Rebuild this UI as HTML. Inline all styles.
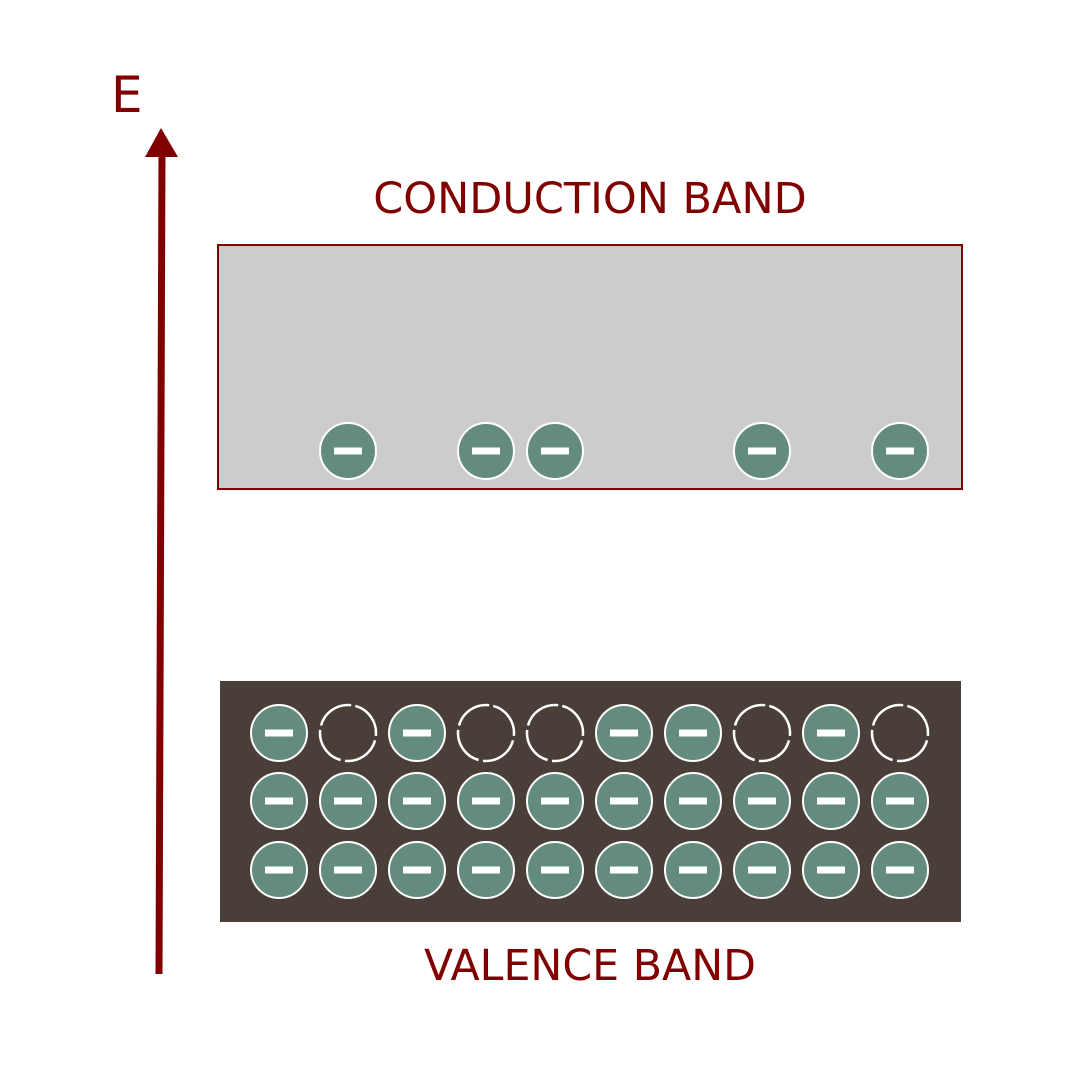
<!DOCTYPE html>
<html><head><meta charset="utf-8"><style>
html,body{margin:0;padding:0;background:#fff;}
svg{display:block;}
text{font-family:"DejaVu Sans","Liberation Sans",sans-serif;fill:#800000;}
</style></head><body>
<svg id="chart" width="1080" height="1080" viewBox="0 0 1080 1080" xmlns="http://www.w3.org/2000/svg">
  <rect x="0" y="0" width="1080" height="1080" fill="#fff"/>
  <text x="111" y="112" font-size="50">E</text>
  <line x1="159" y1="974" x2="162" y2="152" stroke="#800000" stroke-width="7"/>
  <polygon points="161,128 178,157 145,157" fill="#800000"/>
  <text x="590" y="213" font-size="43" text-anchor="middle">CONDUCTION BAND</text>
  <rect x="218" y="245" width="744" height="244" fill="#cccccc" stroke="#800000" stroke-width="2"/>
  <rect x="220" y="681" width="741" height="241" fill="#4a3f38"/>
  <text x="590" y="980" font-size="42.7" text-anchor="middle">VALENCE BAND</text>
  <g id="particles"></g>
</svg>
<script>
// column index positions (0..9)
const conductionElectronCols = [1, 3, 4, 7, 9];
const valenceRow1 = ['e','h','e','h','h','e','e','h','e','h'];
const valenceRow2 = ['e','e','e','e','e','e','e','e','e','e'];
const valenceRow3 = ['e','e','e','e','e','e','e','e','e','e'];

const NS = 'http://www.w3.org/2000/svg';
const g = document.getElementById('particles');
function colX(i){ return 279 + i*69; }
const R = 28;

function electron(cx, cy){
  const grp = document.createElementNS(NS,'g');
  
  
  const c = document.createElementNS(NS,'circle');
  c.setAttribute('cx', cx); c.setAttribute('cy', cy); c.setAttribute('r', R);
  c.setAttribute('fill', '#648c7e'); c.setAttribute('stroke', '#fff'); c.setAttribute('stroke-width', '2');
  grp.appendChild(c);
  const b = document.createElementNS(NS,'rect');
  b.setAttribute('x', cx-14); b.setAttribute('y', cy-3.5); b.setAttribute('width', 28); b.setAttribute('height', 7);
  b.setAttribute('fill', '#fff');
  grp.appendChild(b);
  g.appendChild(grp);
}
function hole(cx, cy){
  const c = document.createElementNS(NS,'circle');
  
  
  c.setAttribute('cx', cx); c.setAttribute('cy', cy); c.setAttribute('r', R);
  c.setAttribute('fill', 'none'); c.setAttribute('stroke', '#fff'); c.setAttribute('stroke-width', '2.5');
  c.setAttribute('stroke-dasharray', '39.5 4.5');
  c.setAttribute('transform', 'rotate(-75 '+cx+' '+cy+')');
  g.appendChild(c);
}
conductionElectronCols.forEach(i => electron(colX(i), 451));
[[valenceRow1,733],[valenceRow2,801],[valenceRow3,870]].forEach(([row,y]) => {
  row.forEach((t,i) => { if (t === 'e') electron(colX(i), y); else hole(colX(i), y); });
});
</script>
</body></html>
